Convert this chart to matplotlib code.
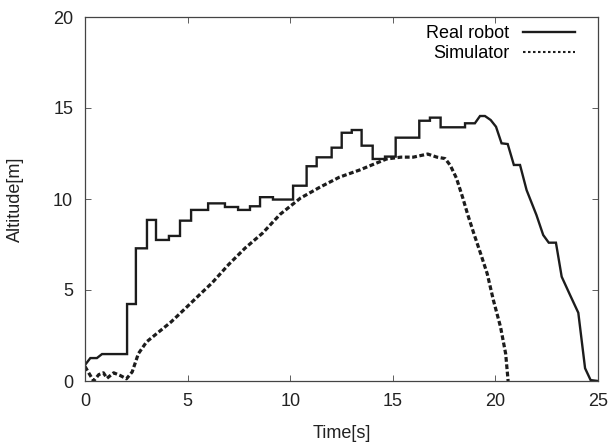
import matplotlib.pyplot as plt
from matplotlib.lines import Line2D

plt.rcParams['font.family'] = ['Liberation Sans', 'DejaVu Sans']
plt.rcParams['font.size'] = 13

# measured altitude of the real robot
real_t = [0.0, 0.26, 0.58, 0.83, 2.05, 2.05, 2.48, 2.48, 3.02, 3.02, 3.46, 3.46,
          4.09, 4.09, 4.63, 4.63, 5.17, 5.17, 6.0, 6.0, 6.82, 6.82, 7.46, 7.46,
          8.04, 8.04, 8.53, 8.53, 9.16, 9.16, 10.14, 10.14, 10.8, 10.8, 11.29, 11.29,
          12.02, 12.02, 12.51, 12.51, 13.0, 13.0, 13.48, 13.48, 14.02, 14.02, 14.62, 14.62,
          15.14, 15.14, 16.29, 16.29, 16.81, 16.81, 17.33, 17.33, 18.52, 18.52, 19.0,
          19.25, 19.49, 19.77, 20.03, 20.3, 20.6, 20.9, 21.2, 21.52, 22.0, 22.33,
          22.6, 22.95, 23.23, 23.64, 24.04, 24.37, 24.64, 25.0]
real_alt = [0.88, 1.26, 1.26, 1.48, 1.48, 4.23, 4.23, 7.29, 7.29, 8.85, 8.85, 7.75,
            7.75, 7.97, 7.97, 8.81, 8.81, 9.4, 9.4, 9.76, 9.76, 9.56, 9.56, 9.4,
            9.4, 9.6, 9.6, 10.1, 10.1, 9.97, 9.97, 10.73, 10.73, 11.8, 11.8, 12.29,
            12.29, 12.82, 12.82, 13.64, 13.64, 13.79, 13.79, 12.93, 12.93, 12.2, 12.2, 12.33,
            12.33, 13.37, 13.37, 14.3, 14.3, 14.47, 14.47, 13.94, 13.94, 14.16, 14.16,
            14.56, 14.56, 14.34, 13.97, 13.06, 13.02, 11.87, 11.87, 10.49, 9.12, 8.02,
            7.6, 7.6, 5.73, 4.72, 3.75, 0.7, 0.05, 0.0]

# simulated altitude
sim_t = [0.0, 0.18, 0.42, 0.67, 0.9, 1.07, 1.4, 1.72, 2.02, 2.3, 2.6, 3.0, 3.6,
         4.2, 4.9, 5.5, 6.2, 7.0, 7.8, 8.65, 9.5, 10.5, 11.45, 12.4, 13.4, 14.0,
         14.7, 15.4, 16.0, 16.7, 17.15, 17.55, 17.8, 18.1, 18.4, 18.65, 18.95,
         19.28, 19.6, 19.9, 20.25, 20.5, 20.62]
sim_alt = [0.8, 0.45, 0.0, 0.35, 0.45, 0.15, 0.45, 0.3, 0.12, 0.5, 1.5, 2.15, 2.7,
           3.25, 4.0, 4.65, 5.4, 6.4, 7.3, 8.12, 9.15, 10.05, 10.65, 11.2, 11.6, 11.88,
           12.2, 12.3, 12.3, 12.47, 12.3, 12.22, 11.85, 11.15, 10.1, 9.15, 8.1,
           7.0, 5.9, 4.45, 2.97, 1.5, 0.0]

x_ticks = [0, 5, 10, 15, 20, 25]
y_ticks = [0, 5, 10, 15, 20]

fig = plt.figure(figsize=(6.12, 4.46), dpi=100)
ax = fig.add_axes([85 / 612, 1 - 381 / 446, 513 / 612, 364 / 446])

ink = '#1c1c1c'
ax.plot(real_t, real_alt, color=ink, lw=1.7, solid_joinstyle='miter')
ax.plot(sim_t, sim_alt, color=ink, lw=2.3, dashes=(1.5, 0.8))

ax.set_xlim(0, 25)
ax.set_ylim(0, 20)
ax.set_xticks(x_ticks)
ax.set_yticks(y_ticks)
ax.tick_params(direction='in', length=4.5, width=0.6, top=True, right=True,
               color='#444444', pad=8.5, labelsize=13, labelcolor='#222222')
for s in ax.spines.values():
    s.set_linewidth(0.9)
    s.set_color('#444444')

ax.set_xlabel('Time[s]', fontsize=13, labelpad=11, color='#222222')
ax.set_ylabel('Altitude[m]', fontsize=13, labelpad=21, color='#222222')

handles = [Line2D([], [], color=ink, lw=1.7),
           Line2D([], [], color=ink, lw=1.5, dashes=(1.2, 1.2))]
ax.legend(handles, ['Real robot', 'Simulator'], loc='upper right',
          bbox_to_anchor=(0.955, 0.978), frameon=False, markerfirst=False,
          handlelength=2.9, handletextpad=0.75, labelspacing=0.18,
          borderpad=0, borderaxespad=0, fontsize=13)

fig.savefig('out.png', dpi=100)
